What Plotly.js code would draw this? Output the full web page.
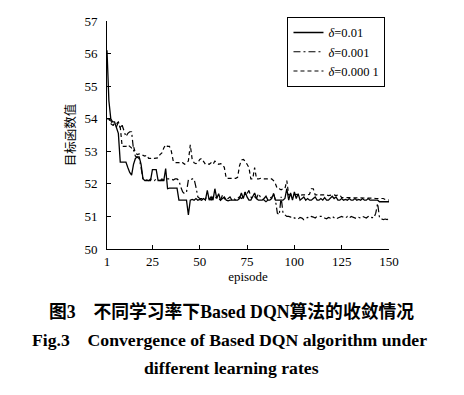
<!DOCTYPE html>
<html>
<head>
<meta charset="utf-8">
<script src="https://cdn.plot.ly/plotly-3.0.1.min.js"></script>
<style>
html,body{margin:0;padding:0;background:#fff;}
#chart{width:464px;height:395px;}
</style>
</head>
<body>
<div id="chart"></div>
<script>
// episodes 1..150
const episodes = [];
for (let i = 1; i <= 150; i++) episodes.push(i);

const xTickVals = [1, 25, 50, 75, 100, 125, 150];
const xTickText = ['1', '25', '50', '75', '100', '125', '150'];
const yTickVals = [50, 51, 52, 53, 54, 55, 56, 57];

const seriesNames = ['<i>δ</i>=0.01', '<i>δ</i>=0.001', '<i>δ</i>=0.000 1'];

// δ = 0.01 (solid)
const lr001 = [
  56.1, 54.55, 54.0, 53.9, 53.9, 53.75, 53.55, 52.67, 52.67, 52.67,
  52.67, 52.5, 52.35, 52.27, 52.6, 52.78, 52.83, 52.83, 52.6, 52.16,
  52.1, 52.1, 52.1, 52.1, 52.44, 52.44, 52.44, 52.1, 52.1, 52.1,
  52.1, 52.47, 51.85, 51.87, 51.87, 51.87, 51.87, 51.87, 51.5, 51.5,
  51.5, 51.5, 51.5, 51.05, 51.5, 51.52, 51.5, 51.55, 51.5, 51.52,
  51.5, 51.55, 51.5, 51.8, 51.5, 51.6, 51.5, 51.85, 51.55, 51.7,
  51.5, 51.55, 51.6, 51.5, 51.48, 51.5, 51.5, 51.52, 51.5, 51.5,
  51.55, 51.72, 51.55, 51.75, 51.6, 51.5, 51.5, 51.6, 51.72, 51.55,
  51.5, 51.5, 51.5, 51.55, 51.62, 51.5, 51.5, 51.55, 51.7, 51.5,
  51.5, 51.5, 51.5, 51.5, 51.55, 51.85, 51.5, 51.72, 51.5, 51.75,
  51.55, 51.7, 51.5, 51.55, 51.6, 51.5, 51.55, 51.5, 51.5, 51.55,
  51.6, 51.5, 51.5, 51.55, 51.5, 51.58, 51.5, 51.5, 51.55, 51.62,
  51.55, 51.6, 51.5, 51.5, 51.55, 51.5, 51.52, 51.5, 51.55, 51.5,
  51.5, 51.55, 51.5, 51.52, 51.5, 51.55, 51.5, 51.5, 51.55, 51.5,
  51.5, 51.5, 51.52, 51.5, 51.45, 51.45, 51.45, 51.45, 51.45, 51.45
];

// δ = 0.001 (dash-dot)
const lr0001 = [
  54.0, 54.0, 53.95, 53.8, 53.85, 53.75, 53.9, 53.7, 53.8, 53.6,
  53.45, 53.55, 53.6, 53.6, 53.05, 52.85, 52.8, 52.78, 52.5, 52.15,
  52.1, 52.12, 52.1, 52.15, 52.12, 52.1, 52.15, 52.12, 52.1, 52.15,
  52.12, 52.12, 52.15, 52.15, 52.15, 52.12, 52.15, 52.15, 52.1, 51.9,
  51.75, 51.7, 51.75, 52.12, 52.12, 52.15, 52.15, 51.9, 51.6, 51.55,
  51.55, 51.5, 51.55, 51.6, 51.55, 51.5, 51.6, 51.55, 51.6, 51.55,
  51.5, 51.65, 51.55, 51.5, 51.55, 51.6, 51.5, 51.55, 51.5, 51.55,
  51.6, 51.55, 51.6, 51.75, 51.7, 51.8, 51.6, 51.55, 51.6, 51.55,
  51.7, 51.6, 51.55, 51.5, 51.45, 51.5, 51.55, 51.6, 51.7, 51.5,
  51.1, 51.05, 51.6, 51.1, 51.05, 51.0, 51.0, 50.98, 51.0, 50.95,
  50.95, 50.92, 50.97, 50.95, 50.9, 50.95, 50.97, 50.95, 51.0, 50.98,
  50.95, 51.0, 51.0, 50.98, 51.0, 50.95, 50.93, 50.97, 50.95, 51.0,
  50.95, 50.92, 50.95, 50.98, 51.0, 50.97, 50.95, 51.0, 50.95, 51.0,
  50.98, 50.95, 50.93, 50.97, 50.95, 51.0, 50.97, 50.95, 51.0, 50.95,
  50.97, 50.95, 51.1, 51.4, 50.95, 50.92, 50.9, 50.92, 50.9, 50.95
];

// δ = 0.0001 (dashed)
const lr00001 = [
  54.0, 54.0, 53.85, 53.8, 53.8, 53.85, 53.9, 53.75, 53.15, 53.15,
  53.15, 53.2, 53.15, 53.1, 53.15, 52.95, 52.9, 52.92, 52.9, 52.88,
  52.85, 52.88, 52.78, 52.78, 52.8, 52.78, 52.78, 52.8, 52.9, 52.95,
  53.1, 53.2, 53.15, 53.15, 53.0, 52.7, 52.65, 52.65, 52.65, 52.62,
  52.65, 52.6, 52.65, 52.7, 53.2, 52.75, 52.65, 52.62, 52.65, 52.75,
  52.78, 52.7, 52.6, 52.62, 52.6, 52.65, 52.6, 52.7, 52.65, 52.6,
  52.62, 52.6, 52.5, 52.17, 52.17, 52.17, 52.15, 52.17, 52.17, 52.2,
  52.55, 52.73, 52.75, 52.7, 52.58, 52.5, 52.15, 52.15, 52.5, 52.15,
  52.15, 52.17, 52.15, 52.15, 52.17, 52.15, 52.15, 52.15, 52.1, 52.0,
  51.85, 51.85, 51.82, 51.85, 51.85, 52.1, 51.66, 51.66, 51.64, 51.66,
  51.68, 51.66, 51.64, 51.66, 51.66, 51.64, 51.66, 51.68, 51.85, 51.85,
  51.66, 51.66, 51.64, 51.66, 51.66, 51.68, 51.66, 51.64, 51.66, 51.66,
  51.66, 51.64, 51.66, 51.66, 51.58, 51.58, 51.57, 51.58, 51.58, 51.57,
  51.58, 51.58, 51.57, 51.58, 51.58, 51.57, 51.57, 51.57, 51.56, 51.57,
  51.57, 51.56, 51.55, 51.55, 51.55, 51.55, 51.55, 51.52, 51.5, 51.5
];

const serif = 'Liberation Serif, Times New Roman, serif';
const cjk = 'Noto Sans CJK SC, sans-serif';
const mixed = 'Liberation Serif, Noto Sans CJK SC, serif';

const traces = [
  {x: episodes, y: lr001, name: seriesNames[0], type: 'scatter', mode: 'lines',
   line: {color: '#000', width: 1.3}},
  {x: episodes, y: lr0001, name: seriesNames[1], type: 'scatter', mode: 'lines',
   line: {color: '#000', width: 1.2, dash: '7px,3px,2px,3px'}},
  {x: episodes, y: lr00001, name: seriesNames[2], type: 'scatter', mode: 'lines',
   line: {color: '#000', width: 1.2, dash: '4px,3px'}}
];

const layout = {
  width: 464, height: 395,
  margin: {l: 107, r: 75, t: 21, b: 146, pad: 0},
  paper_bgcolor: '#fff', plot_bgcolor: '#fff',
  font: {family: serif, color: '#000', size: 13},
  showlegend: true,
  legend: {
    x: 0.64, y: 1.018, xanchor: 'left', yanchor: 'top',
    bgcolor: '#fff', bordercolor: '#000', borderwidth: 1,
    font: {family: serif, size: 12.5, color: '#000'},
    tracegroupgap: 0
  },
  xaxis: {
    range: [1, 150], tickmode: 'array', tickvals: xTickVals, ticktext: xTickText,
    showgrid: false, zeroline: false, showline: true, linecolor: '#000', linewidth: 1,
    ticks: 'inside', ticklen: 4, tickcolor: '#000', tickwidth: 1,
    tickfont: {family: serif, size: 13, color: '#000'},
    ticklabelstandoff: 0,
    title: {text: 'episode', font: {family: serif, size: 13, color: '#000'}, standoff: 3}
  },
  yaxis: {
    range: [50, 57], tickmode: 'array', tickvals: yTickVals,
    showgrid: false, zeroline: false, showline: true, linecolor: '#000', linewidth: 1,
    ticks: 'inside', ticklen: 4, tickcolor: '#000', tickwidth: 1,
    tickfont: {family: serif, size: 13, color: '#000'},
    ticklabelstandoff: 6,
    title: {text: '目标函数值', font: {family: cjk, size: 12.5, color: '#000'}, standoff: 6}
  },
  annotations: [
    {xref: 'paper', yref: 'paper', x: 0.44, y: -0.276, xanchor: 'center', yanchor: 'middle',
     showarrow: false, text: '<b>图3\u00A0\u00A0\u00A0\u00A0不同学习率下Based DQN算法的收敛情况</b>',
     font: {family: mixed, size: 17.8, color: '#000'}},
    {xref: 'paper', yref: 'paper', x: 0.434, y: -0.399, xanchor: 'center', yanchor: 'middle',
     showarrow: false, text: '<b>Fig.3\u00A0\u00A0\u00A0\u00A0Convergence of Based DQN algorithm under</b>',
     font: {family: serif, size: 17.7, color: '#000'}},
    {xref: 'paper', yref: 'paper', x: 0.44, y: -0.522, xanchor: 'center', yanchor: 'middle',
     showarrow: false, text: '<b>different learning rates</b>',
     font: {family: serif, size: 17.7, color: '#000'}}
  ]
};

Plotly.newPlot('chart', traces, layout, {staticPlot: true, displayModeBar: false});
</script>
</body>
</html>
